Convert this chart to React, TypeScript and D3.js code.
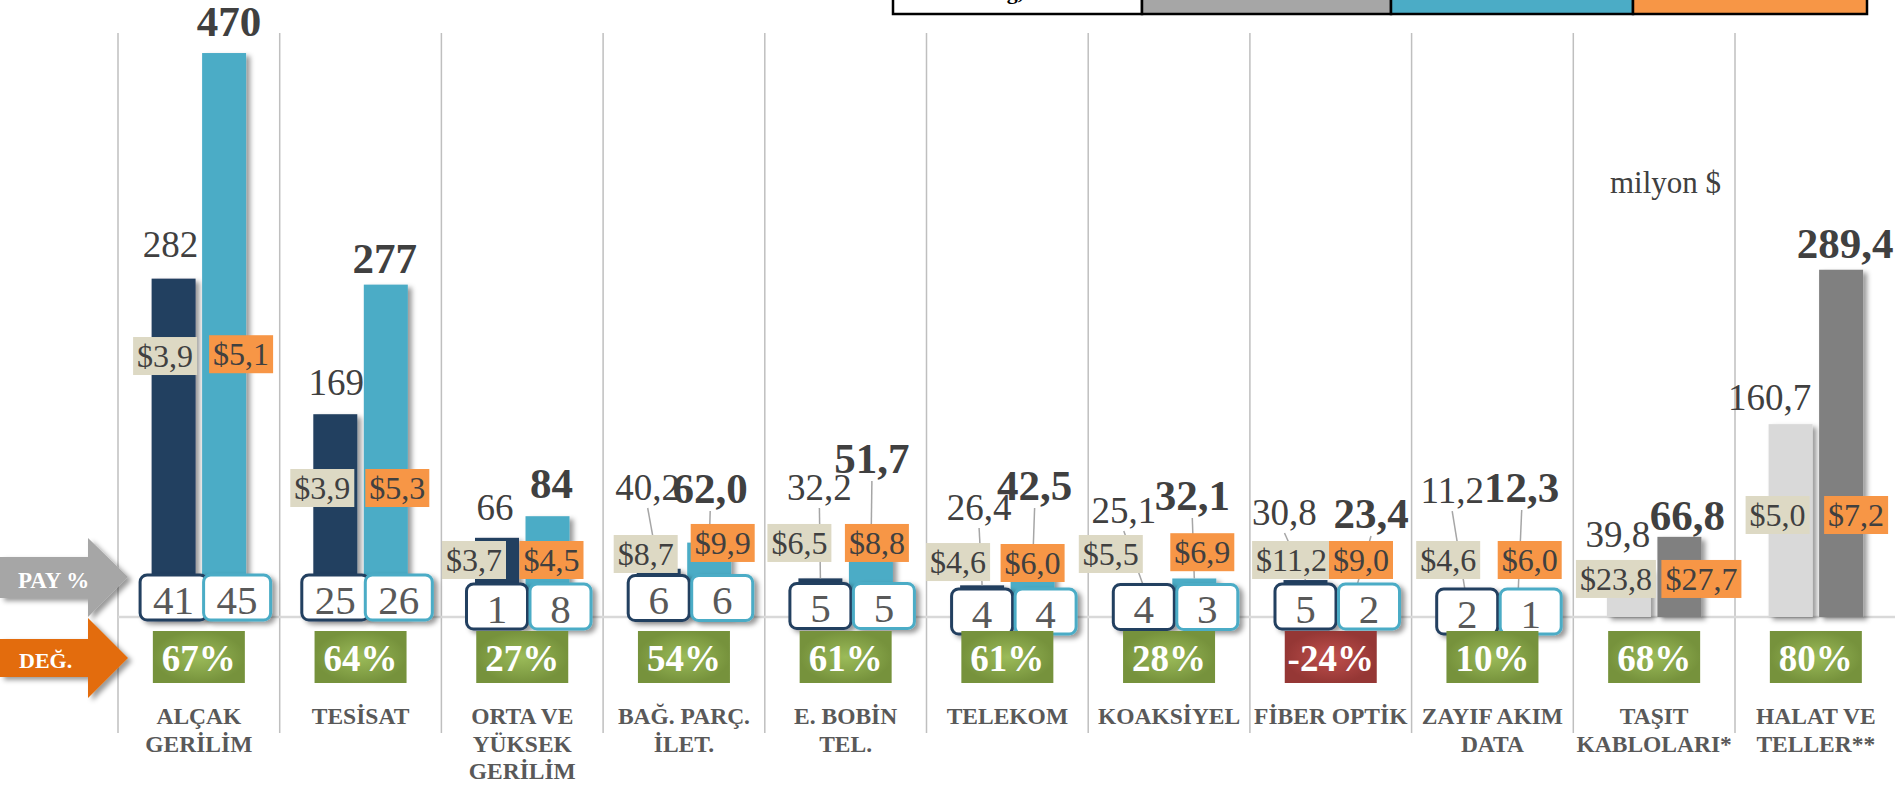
import React, { useEffect, useRef } from 'react';
import * as d3 from 'd3';

// categories (one entry per line of the axis label)
const categoryLines = [
  ['ALÇAK', 'GERİLİM'],
  ['TESİSAT'],
  ['ORTA VE', 'YÜKSEK', 'GERİLİM'],
  ['BAĞ. PARÇ.', 'İLET.'],
  ['E. BOBİN', 'TEL.'],
  ['TELEKOM'],
  ['KOAKSİYEL'],
  ['FİBER OPTİK'],
  ['ZAYIF AKIM', 'DATA'],
  ['TAŞIT', 'KABLOLARI*'],
  ['HALAT VE', 'TELLER**'],
];

// milyon $
const prevValues = [282, 169, 66, 40.2, 32.2, 26.4, 25.1, 30.8, 11.2, 39.8, 160.7];
const currValues = [470, 277, 84, 62.0, 51.7, 42.5, 32.1, 23.4, 12.3, 66.8, 289.4];
const valueDecimals = [0, 0, 0, 1, 1, 1, 1, 1, 1, 1, 1];

// unit prices ($)
const prevPrices = [3.9, 3.9, 3.7, 8.7, 6.5, 4.6, 5.5, 11.2, 4.6, 23.8, 5.0];
const currPrices = [5.1, 5.3, 4.5, 9.9, 8.8, 6.0, 6.9, 9.0, 6.0, 27.7, 7.2];

// PAY %
const prevShares = [41, 25, 1, 6, 5, 4, 4, 5, 2, null, null];
const currShares = [45, 26, 8, 6, 5, 4, 3, 2, 1, null, null];

// DEĞ. %
const changes = [67, 64, 27, 54, 61, 61, 28, -24, 10, 68, 80];

const grayGroup = [false, false, false, false, false, false, false, false, false, true, true];

// label placement (in value units for the vertical, px nudges for the horizontal)
const prevLabelLevel = [300, 185, 80.8, 97.5, 97.5, 80.8, 78.3, 76.7, 95, 58.3, 172.5];
const currLabelLevel = [484, 286.7, 99.2, 95, 120, 97.5, 89.2, 74.2, 95.8, 72.5, 299];
const prevLabelNudge = [-3, 1, -2, -11, -1, -3, -20, -21, -15, -11, -21];
const currLabelNudge = [5, -1, 4, 1, 1, 2, -2, 15, 4, 8, 4];
const prevPriceLevel = [217.5, 107.5, 47.5, 52.5, 61.7, 45.8, 52.5, 47.5, 47.5, 31.7, 85];
const currPriceLevel = [219, 107.5, 47.5, 61.7, 61.7, 45, 54, 47.5, 47.5, 31.7, 85];
const prevPriceNudge = [-8.5, -13, -23, -13, -21, -24, -33, -14, -19, -13, -13];
const currPriceNudge = [17, 11.5, 4, 13.5, 6, 0, 8, 5, 12, 22, 15];
const shareBoxLift = [-19.5, -19.5, -10.5, -19, -11, -5.5, -10, -10.5, -5.5];

const W = 1895;
const H = 785;
const FONT = '"Liberation Serif", "Times New Roman", serif';

const App = () => {
  const svgRef = useRef<SVGSVGElement>(null);

  useEffect(() => {
    const svg = d3.select(svgRef.current);
    svg.selectAll('*').remove();

    const n = categoryLines.length;
    const left = 118;
    const step = 161.7;
    const baseY = 617;

    const x = d3.scaleBand<number>().domain(d3.range(n)).range([left, left + step * n]).padding(0);
    const xs = d3.scaleBand<string>()
      .domain(['prev', 'curr'])
      .range([x.bandwidth() / 2 - 47.25, x.bandwidth() / 2 + 47.25])
      .paddingInner(0.129);
    const y = d3.scaleLinear().domain([0, 486.7]).range([baseY, 33]);

    const cx = (i: number) => (x(i) as number) + x.bandwidth() / 2;
    const bx = (i: number, s: string) => (x(i) as number) + (xs(s) as number) + xs.bandwidth() / 2;

    const defs = svg.append('defs');
    const sh = defs.append('filter').attr('id', 'shadow').attr('x', '-30%').attr('y', '-30%').attr('width', '160%').attr('height', '160%');
    sh.append('feDropShadow').attr('dx', 4).attr('dy', 3).attr('stdDeviation', 2.5)
      .attr('flood-color', '#000').attr('flood-opacity', 0.4);
    const green = defs.append('radialGradient').attr('id', 'gGreen');
    green.append('stop').attr('offset', '0%').attr('stop-color', '#9BBB59');
    green.append('stop').attr('offset', '100%').attr('stop-color', '#76923C');
    const red = defs.append('radialGradient').attr('id', 'gRed');
    red.append('stop').attr('offset', '0%').attr('stop-color', '#C0504D');
    red.append('stop').attr('offset', '100%').attr('stop-color', '#953735');

    const root = svg.append('g').attr('font-family', FONT);

    // legend strip cut at the top
    const legendCells = [
      { x0: 893, x1: 1142, fill: '#FFFFFF' },
      { x0: 1142, x1: 1391, fill: '#A6A6A6' },
      { x0: 1391, x1: 1633, fill: '#4BACC6' },
      { x0: 1633, x1: 1867, fill: '#F79646' },
    ];
    root.selectAll('rect.legend').data(legendCells).join('rect')
      .attr('x', d => d.x0).attr('y', -20).attr('width', d => d.x1 - d.x0).attr('height', 34)
      .attr('fill', d => d.fill).attr('stroke', '#000').attr('stroke-width', 2.5);
    root.append('text').attr('x', 1015).attr('y', -1).attr('text-anchor', 'middle')
      .attr('font-size', 22).attr('font-weight', 'bold').attr('fill', '#000').text('ğ,');

    // vertical grid lines
    root.selectAll('line.grid').data(d3.range(n + 1)).join('line')
      .attr('x1', d => left + d * x.step()).attr('x2', d => left + d * x.step())
      .attr('y1', 33).attr('y2', 733)
      .attr('stroke', '#BFBFBF').attr('stroke-width', 1.5);

    // baseline
    root.append('line').attr('x1', left).attr('x2', W).attr('y1', baseY).attr('y2', baseY)
      .attr('stroke', '#D9D9D9').attr('stroke-width', 2.5);

    root.append('text').attr('x', 1610).attr('y', 193).attr('font-size', 31).attr('fill', '#404040').text('milyon $');

    // bars
    const series = [
      { key: 'prev', values: prevValues, colors: ['#243F60', '#D9D9D9'], level: prevLabelLevel, nudge: prevLabelNudge, bold: false },
      { key: 'curr', values: currValues, colors: ['#4BACC6', '#808080'], level: currLabelLevel, nudge: currLabelNudge, bold: true },
    ];
    const bw = xs.bandwidth();
    series.forEach(s => {
      root.append('g').selectAll('rect').data(s.values).join('rect')
        .attr('x', (d, i) => bx(i, s.key) - bw / 2)
        .attr('y', d => y(d))
        .attr('width', bw)
        .attr('height', d => baseY - y(d))
        .attr('fill', (d, i) => s.colors[grayGroup[i] ? 1 : 0])
        .attr('filter', 'url(#shadow)');
    });

    const fmt = (v: number, i: number) => v.toFixed(valueDecimals[i]).replace('.', ',');

    // leader lines
    series.forEach(s => {
      s.values.forEach((v, i) => {
        const ly = y(s.level[i]);
        const top = y(v);
        if (top - ly > 25) {
          root.append('line')
            .attr('x1', bx(i, s.key) + s.nudge[i]).attr('y1', ly + 8)
            .attr('x2', bx(i, s.key)).attr('y2', top)
            .attr('stroke', '#A6A6A6').attr('stroke-width', 1.5);
        }
      });
    });

    // value labels
    series.forEach(s => {
      root.append('g').selectAll('text').data(s.values).join('text')
        .attr('x', (d, i) => bx(i, s.key) + s.nudge[i])
        .attr('y', (d, i) => y(s.level[i]))
        .attr('text-anchor', 'middle')
        .attr('font-size', s.bold ? 43 : 37)
        .attr('font-weight', s.bold ? 'bold' : 'normal')
        .attr('fill', '#404040')
        .text((d, i) => fmt(d, i));
    });

    // price tags
    const tags = [
      { key: 'prev', prices: prevPrices, level: prevPriceLevel, nudge: prevPriceNudge, fill: '#DDD9C4' },
      { key: 'curr', prices: currPrices, level: currPriceLevel, nudge: currPriceNudge, fill: '#F79646' },
    ];
    tags.forEach(t => {
      t.prices.forEach((p, i) => {
        const px = bx(i, t.key) + t.nudge[i];
        const py = y(t.level[i]);
        const g = root.append('g');
        const r = g.append('rect');
        const tx = g.append('text').attr('x', px).attr('y', py + 11).attr('text-anchor', 'middle')
          .attr('font-size', 32).attr('fill', '#404040').text('$' + p.toFixed(1).replace('.', ','));
        const w = (tx.node() as SVGTextElement).getComputedTextLength() + 8;
        r.attr('x', px - w / 2).attr('y', py - 19).attr('width', w).attr('height', 38).attr('fill', t.fill);
      });
    });

    // PAY % boxes
    const shareSets = [
      { key: 'prev', shares: prevShares, stroke: '#243F60', shift: 0 },
      { key: 'curr', shares: currShares, stroke: '#4BACC6', shift: 13 },
    ];
    shareSets.forEach(s => {
      s.shares.forEach((v, i) => {
        if (v == null) return;
        const w = v >= 10 ? 67 : 61;
        const c = bx(i, s.key) + s.shift;
        const mid = baseY + shareBoxLift[i];
        root.append('rect')
          .attr('x', c - w / 2).attr('y', mid - 22.5).attr('width', w).attr('height', 45)
          .attr('rx', 7).attr('fill', '#fff').attr('stroke', s.stroke).attr('stroke-width', 3)
          .attr('filter', 'url(#shadow)');
        root.append('text').attr('x', c).attr('y', mid + 16).attr('text-anchor', 'middle')
          .attr('font-size', 41).attr('fill', '#595959').text(v);
      });
    });

    // DEĞ. boxes
    root.append('g').selectAll('rect').data(changes).join('rect')
      .attr('x', (d, i) => cx(i) - 46).attr('y', 631).attr('width', 92).attr('height', 52)
      .attr('fill', d => (d < 0 ? 'url(#gRed)' : 'url(#gGreen)'));
    root.append('g').selectAll('text').data(changes).join('text')
      .attr('x', (d, i) => cx(i)).attr('y', 671).attr('text-anchor', 'middle')
      .attr('font-size', 37).attr('font-weight', 'bold').attr('fill', '#fff')
      .text(d => `${d}%`);

    // category labels
    categoryLines.forEach((lines, i) => {
      const t = root.append('text').attr('text-anchor', 'middle').attr('font-size', 23.5)
        .attr('font-weight', 'bold').attr('fill', '#595959');
      lines.forEach((l, k) => {
        t.append('tspan').attr('x', cx(i)).attr('y', 724 + k * 27.5).text(l);
      });
    });

    // side arrows
    root.append('path')
      .attr('d', 'M0,557 L88,557 L88,538 L128,577 L88,617 L88,598 L0,598 Z')
      .attr('fill', '#A6A6A6').attr('filter', 'url(#shadow)');
    root.append('text').attr('x', 18).attr('y', 588).attr('font-size', 23).attr('font-weight', 'bold')
      .attr('fill', '#fff').text('PAY %');
    root.append('path')
      .attr('d', 'M0,639 L88,639 L88,618 L128,658 L88,698 L88,677 L0,677 Z')
      .attr('fill', '#E36C09').attr('filter', 'url(#shadow)');
    root.append('text').attr('x', 19).attr('y', 668).attr('font-size', 22).attr('font-weight', 'bold')
      .attr('fill', '#fff').text('DEĞ.');
  }, []);

  return (
    <svg
      ref={svgRef}
      width={W}
      height={H}
      style={{ position: 'absolute', left: 0, top: 0, display: 'block', background: '#fff' }}
    ></svg>
  );
};

export default App;
